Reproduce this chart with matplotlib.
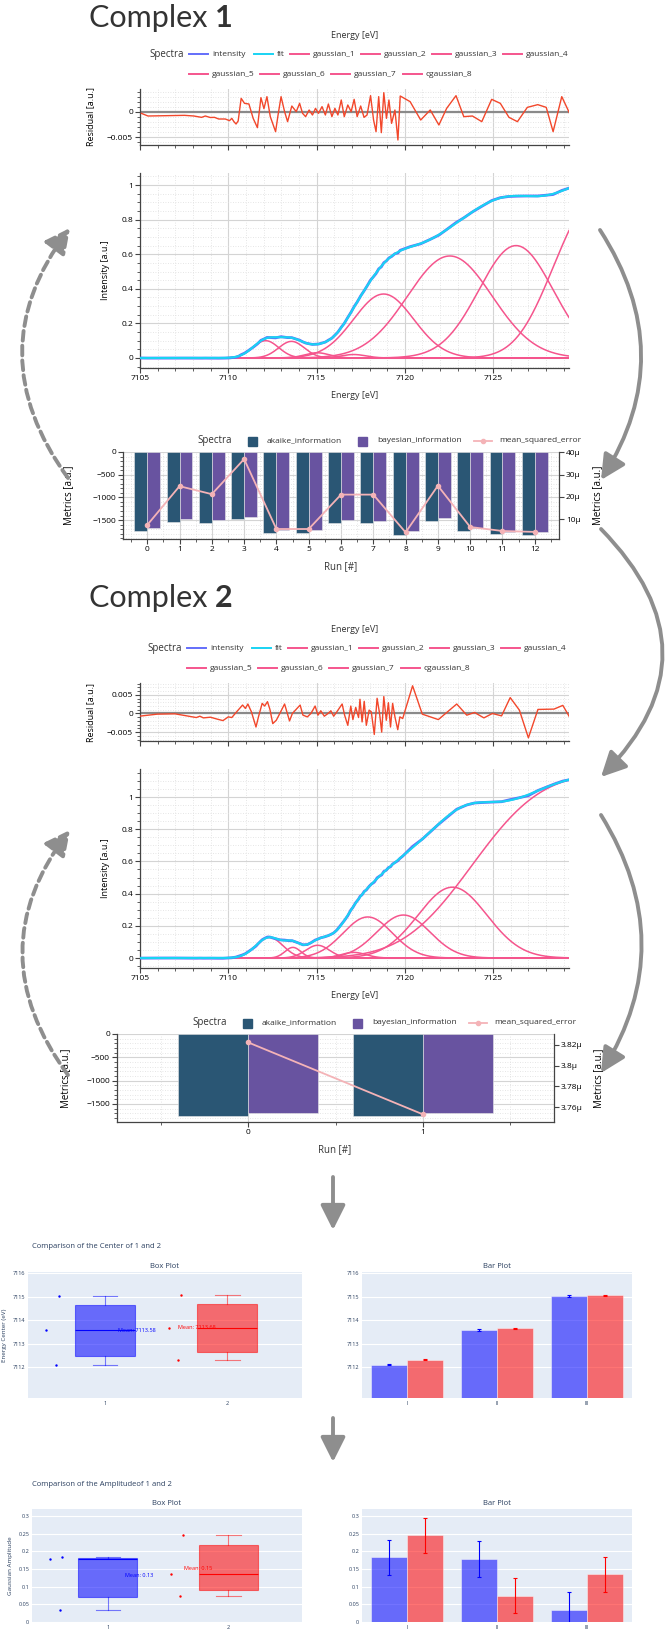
import math
import numpy as np
import matplotlib
matplotlib.use("Agg")
import matplotlib.pyplot as plt
from matplotlib.patches import FancyArrowPatch, Rectangle
from matplotlib.lines import Line2D
from matplotlib.text import Annotation
from matplotlib.ticker import MultipleLocator, FuncFormatter

W, H = 666, 1629

# ---------------- data ----------------
spec_labels = ["intensity", "fit", "gaussian_1", "gaussian_2", "gaussian_3",
               "gaussian_4", "gaussian_5", "gaussian_6", "gaussian_7", "cgaussian_8"]

# complex 1 : gaussian components (height, center, sigma) + cumulative gaussian
c1_height = [0.10, 0.096, 0.03, 0.02, 0.37, 0.59, 0.65]
c1_center = [7112.12, 7113.58, 7115.03, 7117.1, 7118.8, 7122.55, 7126.3]
c1_sigma = [0.73, 0.73, 0.7, 0.7, 1.7, 2.4, 2.1]
c1_step = [1.05, 7128.4, 1.7]  # amplitude, center, sigma

# complex 2
c2_height = [0.128, 0.066, 0.079, 0.035, 0.255, 0.267, 0.44]
c2_center = [7112.33, 7113.66, 7115.06, 7117.1, 7117.9, 7119.92, 7122.7]
c2_sigma = [0.76, 0.45, 0.68, 0.7, 1.4, 1.5, 1.95]
c2_step = [1.15, 7123.8, 3.1]

# residuals (energy in eV, residual in 1e-3 a.u.)
res1_e = [7105.08, 7105.45, 7107.52, 7108.05, 7108.49, 7108.70, 7108.98, 7109.22, 7109.46,
          7109.83, 7110.07, 7110.20, 7110.32, 7110.44, 7110.56, 7110.73, 7110.92, 7111.17,
          7111.41, 7111.65, 7111.85, 7112.02, 7112.19, 7112.38, 7112.68, 7112.82, 7112.99,
          7113.19, 7113.36, 7113.60, 7113.85, 7114.04, 7114.21, 7114.38, 7114.58, 7114.77,
          7114.94, 7115.11, 7115.31, 7115.50, 7115.67, 7115.87, 7116.04, 7116.21, 7116.40,
          7116.57, 7116.77, 7116.96, 7117.13, 7117.30, 7117.50, 7117.69, 7117.86, 7118.06,
          7118.23, 7118.37, 7118.52, 7118.67, 7118.81, 7118.96, 7119.10, 7119.25, 7119.44,
          7119.61, 7119.74, 7120.30, 7120.90, 7121.44, 7121.93, 7122.37, 7122.90, 7123.34,
          7123.83, 7124.36, 7124.92, 7125.41, 7125.90, 7126.38, 7126.94, 7127.53, 7128.01,
          7128.40, 7128.89, 7129.38]
res1_v = [-0.27, -0.80, -0.67, -0.80, -1.07, -0.80, -1.10, -1.07, -1.40,
          -1.40, -1.73, -1.27, -1.93, -2.40, -1.80, 2.73, 1.73, 1.60,
          -1.27, -3.13, 2.87, 0.67, 3.07, -0.93, -3.93, -0.60, 3.07,
          0.07, -1.93, 1.20, 0.07, 1.73, -0.27, -0.93, 0.40, -0.60,
          0.73, -0.27, 1.07, -0.60, 1.60, -0.93, 0.73, -0.60, 2.40,
          -0.93, 1.40, 0.07, 2.53, -0.93, 1.20, -1.07, -0.60, 3.27,
          -1.60, -3.93, 3.07, -4.13, 3.87, -1.27, 2.40, -2.27, 0.40,
          -5.60, 3.20, 2.07, -1.60, 0.40, -2.60, 0.73, 3.27, -0.93,
          -0.80, -1.93, 2.53, 1.73, -1.07, -1.93, 0.93, 1.47, 0.93,
          -3.93, 3.07, -0.60]

res2_e = [7104.96, 7105.97, 7106.98, 7108.19, 7108.39, 7108.59, 7108.99, 7109.40, 7109.70,
          7110.00, 7110.20, 7110.44, 7110.81, 7110.97, 7111.11, 7111.31, 7111.57, 7111.71,
          7111.92, 7112.06, 7112.22, 7112.36, 7112.52, 7112.72, 7112.92, 7113.19, 7113.47,
          7113.63, 7114.07, 7114.23, 7114.48, 7114.68, 7114.92, 7115.08, 7115.24, 7115.44,
          7115.65, 7115.81, 7115.97, 7116.15, 7116.45, 7116.59, 7116.77, 7116.94, 7117.06,
          7117.22, 7117.38, 7117.46, 7117.58, 7117.70, 7117.82, 7117.98, 7118.10, 7118.27,
          7118.43, 7118.57, 7118.69, 7118.81, 7118.95, 7119.07, 7119.19, 7119.31, 7119.44,
          7119.60, 7119.72, 7119.88, 7120.44, 7120.99, 7121.90, 7122.94, 7123.51, 7123.95,
          7124.48, 7124.96, 7125.48, 7125.97, 7126.49, 7127.00, 7127.54, 7128.45, 7128.95,
          7129.46]
res2_v = [-0.73, -0.18, -0.09, -1.09, -0.73, -1.18, -1.00, -1.55, -1.91,
          -0.91, -1.09, 0.27, 2.27, 1.36, 2.55, 0.45, -3.64, -0.91,
          2.73, 2.00, 3.18, 1.09, -2.73, -1.82, 0.00, 2.55, -2.00,
          0.00, 2.27, -0.45, -0.91, 0.00, 2.00, -0.45, 0.73, -0.73,
          0.00, 0.73, -0.73, 0.45, 2.55, -0.45, -3.18, 2.00, -1.64,
          1.64, -1.09, 3.82, -2.27, 3.27, -3.18, 0.91, 0.45, -5.64,
          4.09, 0.00, -5.00, 4.55, -1.82, 2.91, -3.64, 2.73, -0.91,
          -4.36, -0.91, -1.36, 7.45, -0.18, -1.64, 2.55, -0.45, 0.27,
          -1.18, 0.00, -0.64, 4.27, 0.91, -6.55, 1.09, 1.18, 2.18,
          -2.00]

# fit metrics per run
aic_1 = [-1740, -1535, -1564, -1476, -1784, -1784, -1564, -1564, -1828, -1520, -1740, -1806, -1828]
bic_1 = [-1674, -1476, -1498, -1432, -1718, -1718, -1498, -1510, -1740, -1454, -1674, -1762, -1762]
mse_1 = [7.3, 24.8, 21.2, 37.0, 5.5, 5.5, 21.0, 21.0, 4.0, 25.0, 6.4, 4.6, 4.2]  # 1e-6
aic_2 = [-1755, -1755]
bic_2 = [-1690, -1700]
mse_2 = [3.8225, 3.7529]  # 1e-6

# comparison of the first three gaussians
peak_names = ["I", "II", "III"]
center_1 = [7112.12, 7113.58, 7115.03]
center_2 = [7112.33, 7113.66, 7115.06]
center_err = [0.03, 0.03, 0.03]
amp_1 = [0.183, 0.178, 0.035]
amp_2 = [0.245, 0.075, 0.135]
amp_err = [0.05, 0.05, 0.05]

# ---------------- style ----------------
C_INT = "#636efa"
C_FIT = "#19d3f3"
C_GAUSS = "#f5558d"
C_RES = "#f2472b"
C_AIC = "#2a5674"
C_BIC = "#6853a0"
C_MSE = "#f4b3b7"
C_ARROW = "#8e8e8e"
PL_BG = "#e5ecf6"
PL_TXT = "#2a3f5f"

plt.rcParams["font.family"] = ["Open Sans", "DejaVu Sans"]
plt.rcParams["font.size"] = 6
plt.rcParams["axes.unicode_minus"] = True

fig = plt.figure(figsize=(W / 100, H / 100), dpi=100)


def fx(x):
    return x / W


def fy(y):
    return 1 - y / H


def add_ax(l, t, r, b):
    return fig.add_axes([l / W, 1 - b / H, (r - l) / W, (b - t) / H])


def fmt_g(v, p):
    return ("%g" % round(v, 6)).replace("-", "\u2212")


def spectra_style(ax, xminor, yminor):
    for s in ["top", "right"]:
        ax.spines[s].set_visible(False)
    for s in ["left", "bottom"]:
        ax.spines[s].set_color("#444444")
        ax.spines[s].set_linewidth(0.9)
    ax.xaxis.set_minor_locator(MultipleLocator(xminor))
    ax.yaxis.set_minor_locator(MultipleLocator(yminor))
    ax.grid(which="major", color="#d4d4d4", lw=0.8)
    ax.grid(which="minor", color="#dedede", lw=0.6, ls=(0, (1, 2)))
    ax.tick_params(which="major", length=3.5, width=0.8, color="#444444", labelsize=6, pad=1.5)
    ax.tick_params(which="minor", length=2, width=0.6, color="#444444")
    ax.yaxis.set_major_formatter(FuncFormatter(fmt_g))
    ax.set_axisbelow(True)


def components(e, heights, centers, sigmas, step):
    comps = [h * np.exp(-(e - c) ** 2 / (2 * s ** 2)) for h, c, s in zip(heights, centers, sigmas)]
    a, c, s = step
    comps.append(a * 0.5 * (1 + np.vectorize(math.erf)((e - c) / (s * math.sqrt(2)))))
    return comps


def complex_title(y, num):
    t = fig.text(fx(89), fy(y), "Complex ", fontsize=22, family=["Lato", "DejaVu Sans"],
                 color="#333333", va="baseline")
    ann = Annotation(num, xy=(1, 0), xycoords=t, va="bottom", ha="left", fontsize=22,
                     family=["Lato", "DejaVu Sans"], fontweight="bold", color="#333333")
    fig.add_artist(ann)


def spectra_legend(y1, y2, dx):
    colors = [C_INT, C_FIT] + [C_GAUSS] * 8
    xs = [189, 254, 290, 361, 432, 503, 189, 260, 331, 403]
    ys = [y1] * 6 + [y2] * 4
    fig.text(fx(149 + dx), fy(y1), "Spectra", fontsize=7, ha="left", va="center", color="#333333")
    for lab, c, x, y in zip(spec_labels, colors, xs, ys):
        fig.add_artist(Line2D([fx(x + dx), fx(x + dx + 19)], [fy(y), fy(y)], color=c, lw=1.4))
        fig.text(fx(x + dx + 23), fy(y), lab, fontsize=6, ha="left", va="center", color="#333333")


def metrics_legend(y, dx):
    fig.text(fx(197 + dx), fy(y), "Spectra", fontsize=7, ha="left", va="center", color="#333333")
    for x, c, lab in [(248, C_AIC, "akaike_information"), (358, C_BIC, "bayesian_information")]:
        fig.add_artist(Rectangle((fx(x + dx), fy(y + 4.5)), 9 / W, 9 / H, color=c,
                                 transform=fig.transFigure))
        fig.text(fx(x + dx + 19), fy(y), lab, fontsize=6, ha="left", va="center", color="#333333")
    fig.add_artist(Line2D([fx(474 + dx), fx(492 + dx)], [fy(y), fy(y)], color=C_MSE, lw=1.3))
    fig.add_artist(Line2D([fx(483 + dx)], [fy(y)], color=C_MSE, marker="o", markersize=3, lw=0))
    fig.text(fx(499 + dx), fy(y), "mean_squared_error", fontsize=6, ha="left", va="center",
             color="#333333")


def residual_panel(rect, res_e, res_v, ylim, yticks):
    ax = add_ax(*rect)
    spectra_style(ax, 1, 0.001)
    ax.axhline(0, color="#8a8a8a", lw=1.6, zorder=1.5)
    ax.plot(res_e, np.array(res_v) * 1e-3, color=C_RES, lw=1.0, zorder=3)
    ax.set_xlim(7105, 7129.3)
    ax.set_ylim(*ylim)
    ax.set_xticks(range(7105, 7130, 5))
    ax.set_xticklabels([])
    ax.set_yticks(yticks)
    ax.set_ylabel("Residual [a.u.]", fontsize=6.5)
    ax.yaxis.set_label_coords(-0.105, 0.5)
    return ax


def intensity_panel(rect, heights, centers, sigmas, step, res_e, res_v, ylim):
    ax = add_ax(*rect)
    spectra_style(ax, 1, 0.05)
    e = np.linspace(7105, 7129.3, 600)
    comps = components(e, heights, centers, sigmas, step)
    for comp in comps:
        ax.plot(e, comp, color=C_GAUSS, lw=1.1, zorder=2)
    re = np.array(res_e)
    meas = np.sum(components(re, heights, centers, sigmas, step), axis=0) + np.array(res_v) * 1e-3
    ax.plot(re, meas, color=C_INT, lw=2.0, zorder=3)
    ax.plot(e, np.sum(comps, axis=0), color=C_FIT, lw=1.5, zorder=4)
    ax.set_xlim(7105, 7129.3)
    ax.set_ylim(*ylim)
    ax.set_xticks(range(7105, 7130, 5))
    ax.set_yticks(np.arange(0, 1.01, 0.2))
    ax.set_ylabel("Intensity [a.u.]", fontsize=6.5)
    ax.yaxis.set_label_coords(-0.07, 0.5)
    return ax


def metrics_panel(rect, aic, bic, mse, ylim, mse_lim, mse_ticks, lab_l, lab_r):
    ax = add_ax(*rect)
    spectra_style(ax, 1, 100)
    runs = np.arange(len(aic))
    ax.xaxis.set_minor_locator(MultipleLocator(1, offset=0.5))
    ax.bar(runs - 0.2, aic, width=0.4, color=C_AIC, edgecolor="#e8e8e8", lw=0.4, zorder=2)
    ax.bar(runs + 0.2, bic, width=0.4, color=C_BIC, edgecolor="#e8e8e8", lw=0.4, zorder=2)
    ax.set_xlim(-0.75, len(aic) - 0.25)
    ax.set_ylim(*ylim)
    ax.set_xticks(runs)
    ax.set_yticks([-1500, -1000, -500, 0])
    ax.set_ylabel("Metrics [a.u.]", fontsize=7)
    ax.yaxis.set_label_coords(lab_l, 0.5)
    ax2 = ax.twinx()
    ax2.plot(runs, np.array(mse) * 1e-6, color=C_MSE, lw=1.3, marker="o", markersize=3, zorder=5)
    ax2.set_ylim(*mse_lim)
    ax2.set_yticks(mse_ticks)
    ax2.yaxis.set_major_formatter(FuncFormatter(lambda v, p: "%gµ" % round(v * 1e6, 4)))
    for s in ["top", "left", "bottom"]:
        ax2.spines[s].set_visible(False)
    ax2.spines["right"].set_color("#444444")
    ax2.spines["right"].set_linewidth(0.9)
    ax2.tick_params(which="major", length=3.5, width=0.8, color="#444444", labelsize=6, pad=1.5)
    ax2.set_ylabel("Metrics [a.u.]", fontsize=7)
    ax2.yaxis.set_label_coords(lab_r, 0.5)
    return ax


# ---------------- complex 1 ----------------
complex_title(27, "1")
fig.text(fx(355), fy(36), "Energy [eV]", ha="center", va="center", fontsize=6.5, color="#333333")
spectra_legend(54, 74, 0)
residual_panel((140, 89, 569, 145), res1_e, res1_v, (-0.0066, 0.0046), [-0.005, 0])
intensity_panel((140, 173, 569, 368), c1_height, c1_center, c1_sigma, c1_step,
                res1_e, res1_v, (-0.058, 1.07))
fig.text(fx(355), fy(395), "Energy [eV]", ha="center", va="center", fontsize=6.5, color="#333333")
metrics_legend(441, 0)
metrics_panel((123, 452, 559, 539), aic_1, bic_1, mse_1, (-1916, 0), (1.0e-6, 40.2e-6),
              [10e-6, 20e-6, 30e-6, 40e-6], -0.112, 1.076)
fig.text(fx(341), fy(567), "Run [#]", ha="center", va="center", fontsize=7, color="#333333")

# ---------------- complex 2 ----------------
complex_title(607, "2")
fig.text(fx(355), fy(630), "Energy [eV]", ha="center", va="center", fontsize=6.5, color="#333333")
spectra_legend(648, 668, -2)
residual_panel((140, 683, 569, 741), res2_e, res2_v, (-0.0074, 0.0082), [-0.005, 0, 0.005])
intensity_panel((140, 769, 569, 968), c2_height, c2_center, c2_sigma, c2_step,
                res2_e, res2_v, (-0.062, 1.174))
fig.text(fx(355), fy(995), "Energy [eV]", ha="center", va="center", fontsize=6.5, color="#333333")
metrics_legend(1023, -5)
metrics_panel((117, 1034, 554, 1122), aic_2, bic_2, mse_2, (-1886, 0), (3.7455e-6, 3.8306e-6),
              [3.76e-6, 3.78e-6, 3.80e-6, 3.82e-6], -0.105, 1.09)
fig.text(fx(335), fy(1150), "Run [#]", ha="center", va="center", fontsize=7, color="#333333")


# ---------------- arrows ----------------
def arrow(p0, p1, rad, dashed=False):
    a = FancyArrowPatch((fx(p0[0]), fy(p0[1])), (fx(p1[0]), fy(p1[1])),
                        transform=fig.transFigure, connectionstyle="arc3,rad=%g" % rad,
                        arrowstyle="-|>,head_length=1.0,head_width=0.5", mutation_scale=15,
                        color=C_ARROW, lw=2.8, linestyle=(0, (2.5, 1.3)) if dashed else "-",
                        shrinkA=0, shrinkB=0)
    fig.add_artist(a)


arrow((68, 478), (70, 228), -0.37, dashed=True)
arrow((600, 230), (601, 480), -0.32)
arrow((601, 529), (601, 777), -0.49)
arrow((601, 815), (601, 1073), -0.31)
arrow((68, 1075), (70, 830), -0.375, dashed=True)
arrow((333, 1177), (333, 1230), 0)
arrow((333, 1418), (333, 1462), 0)


# ---------------- comparison panels ----------------
def plotly_ax(rect):
    ax = add_ax(*rect)
    ax.set_facecolor(PL_BG)
    for s in ax.spines.values():
        s.set_visible(False)
    ax.grid(axis="y", color="white", lw=0.8)
    ax.set_axisbelow(True)
    ax.tick_params(length=0, labelsize=4, labelcolor=PL_TXT, pad=2)
    return ax


jitter = [-0.40, -0.48, -0.38]


def box_panel(rect, v1, v2, ylim, yticks, ylabel, fmt):
    ax = plotly_ax(rect)
    for i, (v, col) in enumerate(zip((v1, v2), ["blue", "red"])):
        q1, med, q3 = np.percentile(v, [25, 50, 75], method="hazen")
        st = dict(med=med, q1=q1, q3=q3, whislo=min(v), whishi=max(v), fliers=[])
        light = matplotlib.colors.to_rgba(col, 0.5)
        ax.bxp([st], positions=[i], widths=0.49, capwidths=0.2, patch_artist=True,
               boxprops=dict(facecolor=matplotlib.colors.to_rgba(col, 0.55), edgecolor=light, lw=0.8),
               medianprops=dict(color=col, lw=0.8),
               whiskerprops=dict(color=light, lw=0.8),
               capprops=dict(color=light, lw=0.8),
               manage_ticks=False)
        ax.scatter(i + np.array(jitter), sorted(v), s=3, color=col, zorder=5, lw=0)
        m = np.mean(v)
        ax.text(i + (0.26 if i == 0 else -0.25), m, "Mean: " + fmt % m, color=col, fontsize=4,
                ha="center", va="center", zorder=6)
    ax.set_xlim(-0.63, 1.61)
    ax.set_ylim(*ylim)
    ax.set_xticks([0, 1])
    ax.set_xticklabels(["1", "2"])
    ax.set_yticks(yticks)
    ax.yaxis.set_major_formatter(FuncFormatter(fmt_g))
    ax.set_ylabel(ylabel, fontsize=4.5, color=PL_TXT, labelpad=4)
    ax.set_title("Box Plot", fontsize=5.5, color=PL_TXT, pad=3)
    return ax


def bar_panel(rect, v1, v2, e1, e2, ylim, yticks):
    ax = plotly_ax(rect)
    x = np.arange(len(peak_names))
    for off, v, e, col in [(-0.2, v1, e1, "blue"), (0.2, v2, e2, "red")]:
        ax.bar(x + off, v, 0.4, yerr=e, color=matplotlib.colors.to_rgba(col, 0.55),
               edgecolor=(1, 1, 1, 0.6), lw=0.5,
               error_kw=dict(ecolor=col, elinewidth=0.8, capsize=1.5, capthick=0.8))
    ax.set_xlim(-0.5, 2.5)
    ax.set_ylim(*ylim)
    ax.set_xticks(x)
    ax.set_xticklabels(peak_names)
    ax.set_yticks(yticks)
    ax.yaxis.set_major_formatter(FuncFormatter(fmt_g))
    ax.set_title("Bar Plot", fontsize=5.5, color=PL_TXT, pad=3)
    return ax


fig.text(fx(32), fy(1247), "Comparison of the Center of 1 and 2", fontsize=5.5, color=PL_TXT,
         ha="left", va="center")
box_panel((28, 1272, 302, 1398), center_1, center_2, (7110.7, 7116.05),
          [7112, 7113, 7114, 7115, 7116], "Energy Center (eV)", "%.2f")
bar_panel((362, 1272, 632, 1398), center_1, center_2, center_err, center_err,
          (7110.7, 7116.05), [7112, 7113, 7114, 7115, 7116])

fig.text(fx(32), fy(1485), "Comparison of the Amplitudeof 1 and 2", fontsize=5.5, color=PL_TXT,
         ha="left", va="center")
box_panel((32, 1509, 302, 1622), amp_1, amp_2, (0, 0.32),
          [0, 0.05, 0.1, 0.15, 0.2, 0.25, 0.3], "Gaussian Amplitude", "%.2f")
bar_panel((362, 1509, 632, 1622), amp_1, amp_2, amp_err, amp_err, (0, 0.32),
          [0, 0.05, 0.1, 0.15, 0.2, 0.25, 0.3])

fig.savefig("out.png", dpi=100, facecolor="white")
